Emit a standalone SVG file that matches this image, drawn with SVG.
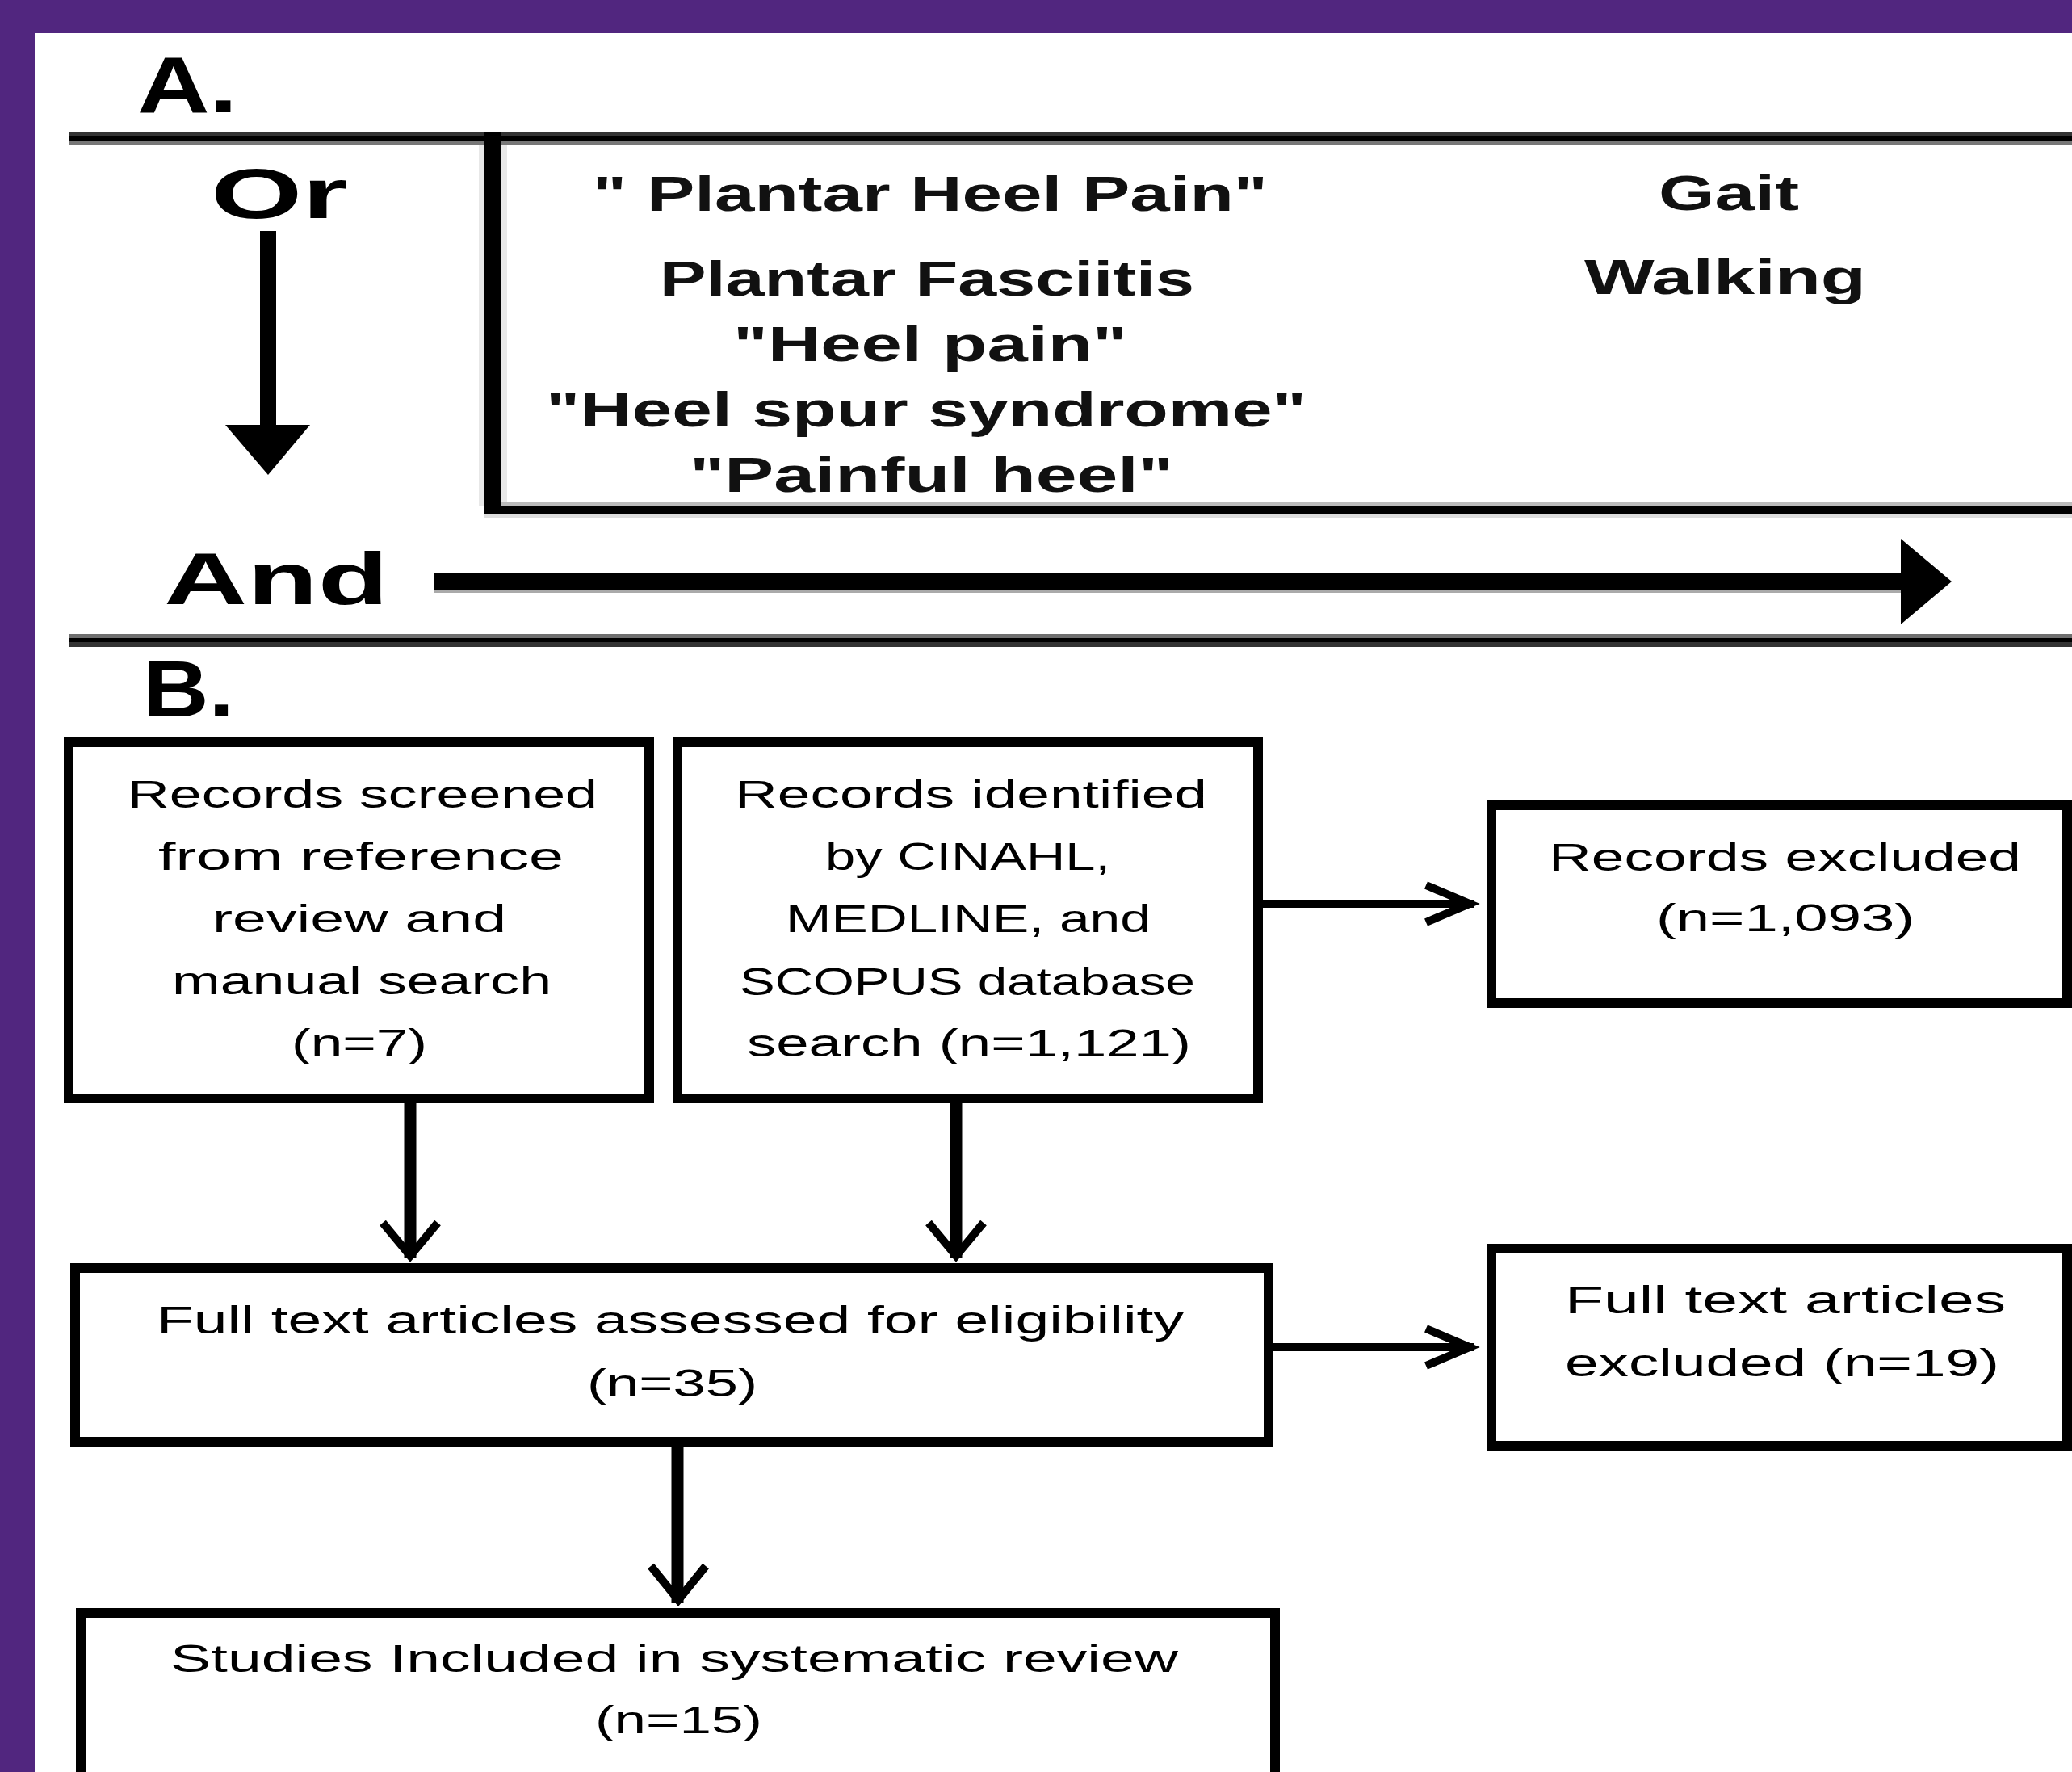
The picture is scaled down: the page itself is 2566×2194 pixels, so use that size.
<svg xmlns="http://www.w3.org/2000/svg" width="2566" height="2194" viewBox="0 0 2566 2194">
<style>
.lbl{font-family:"Liberation Sans",Arial,sans-serif;font-weight:bold;fill:#000}
.terms{font-family:"Liberation Sans",Arial,sans-serif;font-weight:bold;font-size:62px;fill:#111}
.bt{font-family:"Liberation Sans",Arial,sans-serif;font-size:49px;fill:#000}
.box{fill:#fff;stroke:#000;stroke-width:12}
.shaftV{stroke:#000;stroke-width:15;fill:none}
.shaftH{stroke:#000;stroke-width:10;fill:none}
.chev{stroke:#000;stroke-width:10;fill:none;stroke-linejoin:miter;stroke-linecap:butt}
</style>
<rect x="0" y="0" width="2566" height="2194" fill="#fff"/>
<rect x="0" y="0" width="2566" height="41" fill="#51267f"/>
<rect x="0" y="0" width="43" height="2194" fill="#51267f"/>

<g id="sectionA">
  <text class="lbl" x="170" y="139" font-size="99" textLength="124" lengthAdjust="spacingAndGlyphs">A.</text>
  <rect x="85" y="164" width="2481" height="5" fill="#333"/>
  <rect x="85" y="169" width="2481" height="5" fill="#000"/>
  <rect x="85" y="174" width="2481" height="6" fill="#777"/>
  <g id="or-label">
    <text class="lbl" x="261" y="270" font-size="88" textLength="170" lengthAdjust="spacingAndGlyphs">Or</text>
  </g>
  <g id="and-label">
    <text class="lbl" x="203" y="748" font-size="91" textLength="278" lengthAdjust="spacingAndGlyphs">And</text>
  </g>
  <g id="terms-box">
    <rect x="593" y="180" width="35" height="446" fill="#e8e8e8"/>
    <rect x="600" y="164" width="21" height="472" fill="#000"/>
    <rect x="621" y="621" width="1945" height="5" fill="#bbb"/>
    <rect x="600" y="626" width="1966" height="10" fill="#000"/>
    <rect x="600" y="636" width="1966" height="5" fill="#ddd"/>
    <rect x="628" y="180" width="1938" height="441" fill="#fff"/>
    <text class="terms" x="734" y="261" textLength="836" lengthAdjust="spacingAndGlyphs">" Plantar Heel Pain"</text>
    <text class="terms" x="817" y="366" textLength="662" lengthAdjust="spacingAndGlyphs">Plantar Fasciitis</text>
    <text class="terms" x="908" y="447" textLength="488" lengthAdjust="spacingAndGlyphs">"Heel pain"</text>
    <text class="terms" x="676" y="528" textLength="942" lengthAdjust="spacingAndGlyphs">"Heel spur syndrome"</text>
    <text class="terms" x="854" y="609" textLength="599" lengthAdjust="spacingAndGlyphs">"Painful heel"</text>
    <text class="terms" x="2054" y="260" textLength="174" lengthAdjust="spacingAndGlyphs">Gait</text>
    <text class="terms" x="1962" y="364" textLength="349" lengthAdjust="spacingAndGlyphs">Walking</text>
  </g>
  <rect x="85" y="785" width="2481" height="5" fill="#6f6f6f"/>
  <rect x="85" y="790" width="2481" height="5" fill="#000"/>
  <rect x="85" y="795" width="2481" height="6" fill="#333"/>
</g>

<g id="sectionA-arrows">
  <rect x="322" y="286" width="20" height="241" fill="#000"/>
  <polygon points="279,526 384,526 332,588" fill="#000"/>
  <rect x="537" y="709" width="1818" height="22" fill="#000"/>
  <rect x="537" y="731" width="1818" height="3" fill="#aaa"/>
  <polygon points="2354,667 2417,720 2354,773" fill="#000"/>
</g>

<text class="lbl" x="177" y="887" font-size="99" textLength="113" lengthAdjust="spacingAndGlyphs">B.</text>

<g id="node-screened">
  <rect class="box" x="85" y="919" width="719" height="441"/>
  <text class="bt" x="158" y="1000" textLength="582" lengthAdjust="spacingAndGlyphs">Records screened</text>
  <text class="bt" x="196" y="1077" textLength="502" lengthAdjust="spacingAndGlyphs">from reference</text>
  <text class="bt" x="263" y="1154" textLength="364" lengthAdjust="spacingAndGlyphs">review and</text>
  <text class="bt" x="213" y="1231" textLength="470" lengthAdjust="spacingAndGlyphs">manual search</text>
  <text class="bt" x="361" y="1308" textLength="168" lengthAdjust="spacingAndGlyphs">(n=7)</text>
</g>

<g id="node-identified">
  <rect class="box" x="839" y="919" width="719" height="441"/>
  <text class="bt" x="910" y="1000" textLength="585" lengthAdjust="spacingAndGlyphs">Records identified</text>
  <text class="bt" x="1022" y="1077" textLength="353" lengthAdjust="spacingAndGlyphs">by CINAHL,</text>
  <text class="bt" x="973" y="1154" textLength="452" lengthAdjust="spacingAndGlyphs">MEDLINE, and</text>
  <text class="bt" x="916" y="1232" textLength="564" lengthAdjust="spacingAndGlyphs">SCOPUS database</text>
  <text class="bt" x="925" y="1308" textLength="550" lengthAdjust="spacingAndGlyphs">search (n=1,121)</text>
</g>

<g id="node-excluded">
  <rect class="box" x="1847" y="997" width="713" height="245"/>
  <text class="bt" x="1918" y="1078" textLength="585" lengthAdjust="spacingAndGlyphs">Records excluded</text>
  <text class="bt" x="2051" y="1153" textLength="320" lengthAdjust="spacingAndGlyphs">(n=1,093)</text>
</g>

<g id="node-fulltext">
  <rect class="box" x="93" y="1570" width="1478" height="215"/>
  <text class="bt" x="194" y="1651" textLength="1272" lengthAdjust="spacingAndGlyphs">Full text articles assessed for eligibility</text>
  <text class="bt" x="727" y="1729" textLength="211" lengthAdjust="spacingAndGlyphs">(n=35)</text>
</g>

<g id="node-fulltext-excluded">
  <rect class="box" x="1847" y="1546" width="713" height="244"/>
  <text class="bt" x="1938" y="1626" textLength="546" lengthAdjust="spacingAndGlyphs">Full text articles</text>
  <text class="bt" x="1938" y="1704" textLength="538" lengthAdjust="spacingAndGlyphs">excluded (n=19)</text>
</g>

<g id="node-included">
  <rect class="box" x="100" y="1997" width="1479" height="300"/>
  <text class="bt" x="211" y="2070" textLength="1248" lengthAdjust="spacingAndGlyphs">Studies Included in systematic review</text>
  <text class="bt" x="737" y="2146" textLength="207" lengthAdjust="spacingAndGlyphs">(n=15)</text>
</g>

<g id="connectors">
  <line class="shaftV" x1="508" y1="1366" x2="508" y2="1558"/>
  <polyline class="chev" points="474,1514 508,1555 542,1514"/>
  <line class="shaftV" x1="1184" y1="1366" x2="1184" y2="1558"/>
  <polyline class="chev" points="1150,1514 1184,1555 1218,1514"/>
  <line class="shaftH" x1="1564" y1="1119" x2="1826" y2="1119"/>
  <polyline class="chev" points="1766,1096 1820,1119 1766,1142"/>
  <line class="shaftH" x1="1577" y1="1668" x2="1826" y2="1668"/>
  <polyline class="chev" points="1766,1645 1820,1668 1766,1691"/>
  <line class="shaftV" x1="839" y1="1791" x2="839" y2="1985"/>
  <polyline class="chev" points="806,1939 840,1981 874,1939"/>
</g>
</svg>
